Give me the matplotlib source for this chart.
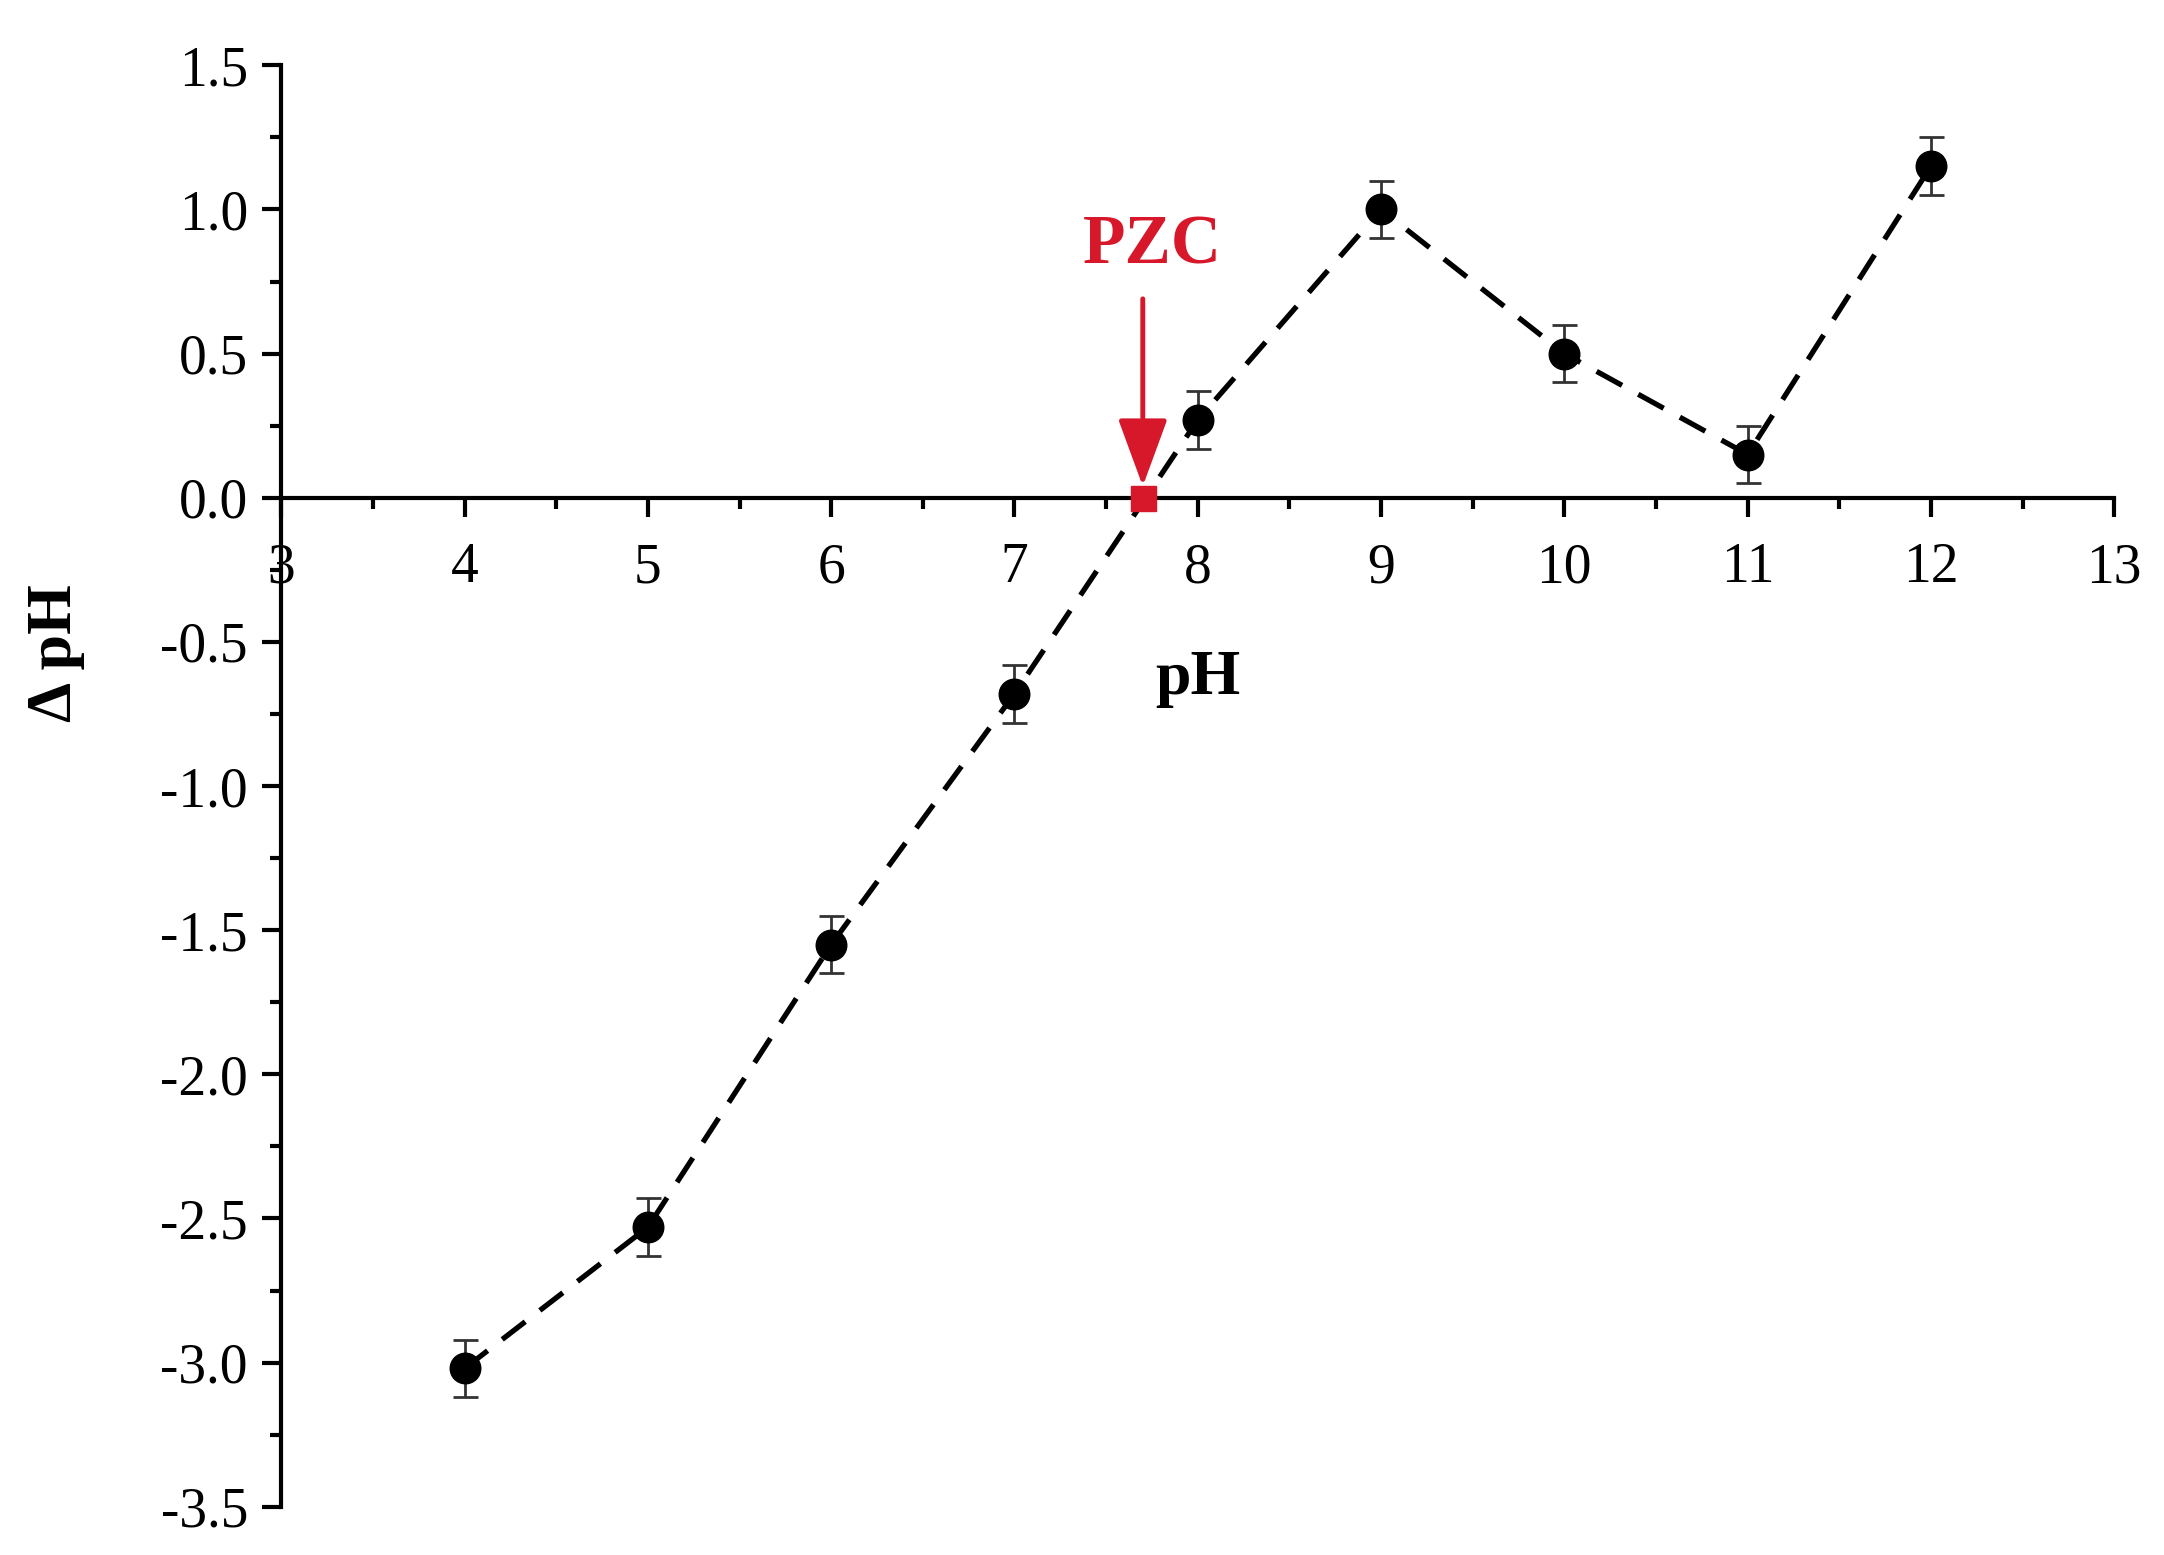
import matplotlib
matplotlib.use("Agg")
import matplotlib.pyplot as plt
from matplotlib.ticker import MultipleLocator

ph = [4, 5, 6, 7, 8, 9, 10, 11, 12]
delta_ph = [-3.02, -2.53, -1.55, -0.68, 0.27, 1.00, 0.50, 0.15, 1.15]
err = [0.10, 0.10, 0.10, 0.10, 0.10, 0.10, 0.10, 0.10, 0.10]
pzc_x = 7.7
pzc_y = 0.0
x_ticks = [3, 4, 5, 6, 7, 8, 9, 10, 11, 12, 13]
y_ticks = [1.5, 1.0, 0.5, 0.0, -0.5, -1.0, -1.5, -2.0, -2.5, -3.0, -3.5]

plt.rcParams['font.family'] = ['Liberation Serif', 'DejaVu Serif']

fig = plt.figure(figsize=(21.64, 15.55), dpi=100)
ax = fig.add_axes([0.130, 0.031, 0.847, 0.927])

ax.plot(ph, delta_ph, color='black', lw=3.8, dashes=(5.5, 3.5), zorder=2)
ax.errorbar(ph, delta_ph, yerr=err, fmt='o', color='black', ms=22,
            ecolor='#333333', elinewidth=2, capsize=9, capthick=2, zorder=3)

ax.plot([pzc_x], [pzc_y], marker='s', color='#d7182a', ms=18, zorder=4, clip_on=False)
ax.annotate('', xy=(pzc_x, 0.04), xytext=(pzc_x, 0.69),
            arrowprops=dict(arrowstyle='-|>,head_length=0.6,head_width=0.22', color='#d7182a', lw=3.5,
                            mutation_scale=70, shrinkA=0, shrinkB=0))
ax.text(pzc_x + 0.05, 0.87, 'PZC', color='#d7182a', fontsize=50, fontweight='bold',
        ha='center', va='center')

ax.set_xlim(3, 13)
ax.set_ylim(-3.5, 1.5)
ax.spines['left'].set_position(('data', 3))
ax.spines['bottom'].set_position(('data', 0))
ax.spines['top'].set_visible(False)
ax.spines['right'].set_visible(False)
for s in ['left', 'bottom']:
    ax.spines[s].set_linewidth(3)

ax.set_xticks(x_ticks)
ax.set_yticks(y_ticks)
ax.set_xticklabels([str(t) for t in x_ticks])
ax.set_yticklabels(['%.1f' % t for t in y_ticks])
ax.xaxis.set_minor_locator(MultipleLocator(0.5))
ax.yaxis.set_minor_locator(MultipleLocator(0.25))
ax.tick_params(which='major', direction='out', length=14, width=3, labelsize=40)
ax.tick_params(axis='x', which='major', pad=18)
ax.tick_params(axis='y', which='major', pad=10)
ax.tick_params(which='minor', direction='out', length=8, width=3)

ax.text(8.0, -0.63, 'pH', fontsize=46, fontweight='bold', ha='center', va='center')
fig.text(0.026, 0.58, 'Δ pH', fontsize=46, fontweight='bold', rotation=90,
         ha='center', va='center')

fig.savefig('out.png', dpi=100)
